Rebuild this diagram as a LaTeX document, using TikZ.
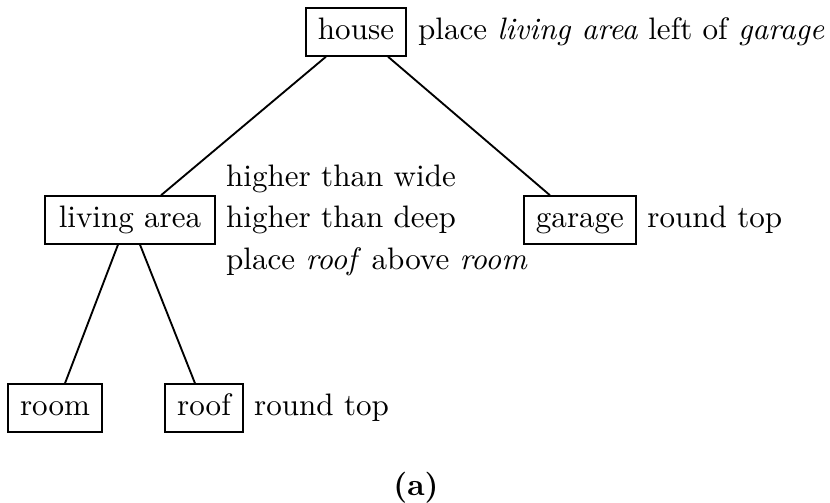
\documentclass[tikz,border=0pt]{standalone}
\begin{document}
\begin{tikzpicture}[x=0.322pt,y=-0.322pt,
  box/.style={draw,line width=0.5pt,inner xsep=3.9pt,inner ysep=0pt,minimum height=15.4pt,text height=6.9pt,text depth=1.9pt},
  lbl/.style={inner sep=0pt,text height=6.9pt,text depth=1.9pt,anchor=base west},
  edge/.style={line width=0.6pt}]
\useasboundingbox (0,0) rectangle (830,503);
\node[box] (house) at (356,32) {house};
\node[box,inner xsep=4.4pt] (living) at (130,220) {living area};
\node[box] (garage) at (580,220) {garage};
\node[box] (room) at (55,408) {room};
\node[box] (roof) at (204,408) {roof};
\node[lbl] (hlabel) at ([xshift=3.4pt]house.base east) {place \textit{living area} left of \textit{garage}};
\node[lbl] (l2) at ([xshift=3.2pt]living.base east) {higher than deep};
\node[lbl] (l1) at ([yshift=13.4pt]l2.base west) {higher than wide};
\node[lbl] (l3) at ([yshift=-13.4pt]l2.base west) {place \textit{roof} above \textit{room}};
\node[lbl] (glabel) at ([xshift=3.2pt]garage.base east) {round top};
\node[lbl] (rlabel) at ([xshift=3.2pt]roof.base east) {round top};
\node (cap) at (416,488) {\textbf{(a)}};
\draw[edge] ([xshift=-30*0.322pt]house.south) -- ([xshift=31*0.322pt]living.north);
\draw[edge] ([xshift=32*0.322pt]house.south) -- ([xshift=-30*0.322pt]garage.north);
\draw[edge] ([xshift=-12*0.322pt]living.south) -- ([xshift=10*0.322pt]room.north);
\draw[edge] ([xshift=10*0.322pt]living.south) -- ([xshift=-9*0.322pt]roof.north);
\end{tikzpicture}
\end{document}
